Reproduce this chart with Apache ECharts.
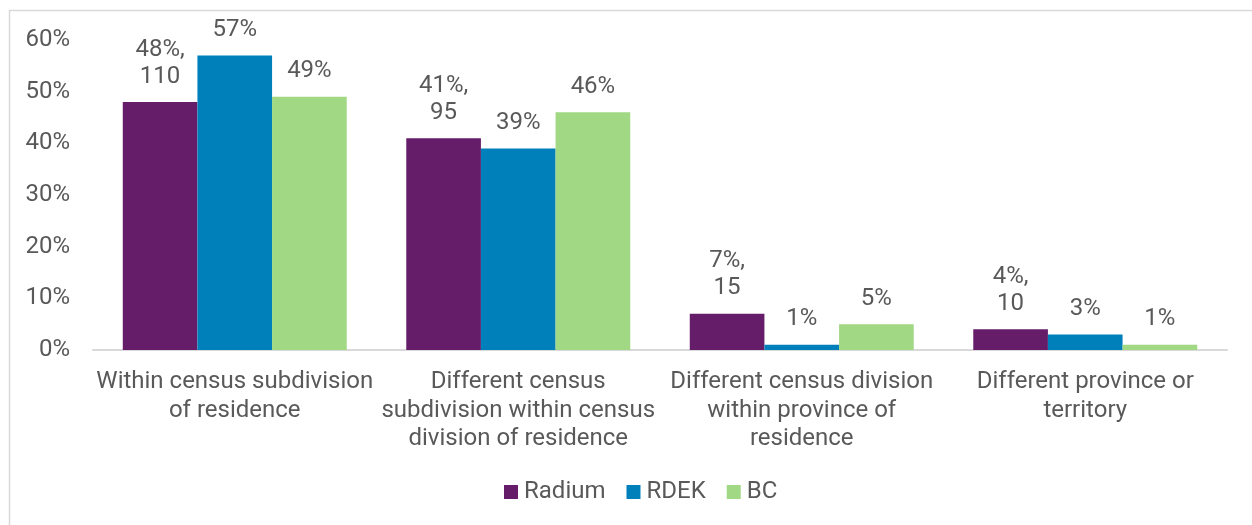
<!DOCTYPE html>
<html>
<head>
<meta charset="utf-8">
<script src="https://cdn.jsdelivr.net/npm/echarts@6/dist/echarts.min.js"></script>
<style>
  html, body { margin: 0; padding: 0; background: #fff; }
  #chart { width: 1252px; height: 525px; }
</style>
</head>
<body>
<div id="chart"></div>
<script>
// Place of work relative to place of residence
const categories = [
  'Within census subdivision\nof residence',
  'Different census\nsubdivision within census\ndivision of residence',
  'Different census division\nwithin province of\nresidence',
  'Different province or\nterritory'
];
const seriesNames = ['Radium', 'RDEK', 'BC'];
const radiumPct = [48, 41, 7, 4];
const radiumCount = [110, 95, 15, 10];
const rdekPct = [57, 39, 1, 3];
const bcPct = [49, 46, 5, 1];
const yTicks = [0, 10, 20, 30, 40, 50, 60];

const colors = ['#651D6A', '#0080BA', '#A1D884'];
const textColor = '#595959';
const fontFamily = 'Roboto, "Noto Sans", sans-serif';
const fontSize = 24;

const labelStyle = {
  show: true,
  position: 'top',
  distance: 12,
  color: textColor,
  fontFamily: fontFamily,
  fontSize: fontSize,
  lineHeight: 27
};

const chart = echarts.init(document.getElementById('chart'));
chart.setOption({
  animation: false,
  graphic: [{
    type: 'rect',
    shape: { x: 9.5, y: 10.5, width: 1400, height: 700 },
    style: { fill: 'none', stroke: '#D9D9D9', lineWidth: 1.5 },
    silent: true
  }],
  grid: { left: 93, right: 25, top: 40, bottom: 175 },
  legend: {
    data: seriesNames,
    bottom: 16,
    left: 499,
    icon: 'rect',
    itemWidth: 14,
    itemHeight: 14,
    itemGap: 21,
    textStyle: { color: textColor, fontFamily: fontFamily, fontSize: fontSize, padding: [0, 0, 0, 1] }
  },
  xAxis: {
    type: 'category',
    data: categories,
    axisLine: { lineStyle: { color: '#D9D9D9', width: 2 } },
    axisTick: { show: false },
    axisLabel: {
      color: textColor,
      fontFamily: fontFamily,
      fontSize: fontSize,
      lineHeight: 28.5,
      margin: 18,
      interval: 0
    }
  },
  yAxis: {
    type: 'value',
    min: yTicks[0],
    max: yTicks[yTicks.length - 1],
    interval: 10,
    splitLine: { show: false },
    axisLine: { show: false },
    axisTick: { show: false },
    axisLabel: {
      color: textColor,
      fontFamily: fontFamily,
      fontSize: fontSize,
      margin: 23,
      formatter: v => v + '%'
    }
  },
  series: [
    {
      name: seriesNames[0],
      type: 'bar',
      data: radiumPct,
      barGap: '0%',
      barCategoryGap: '21%',
      itemStyle: { color: colors[0] },
      label: Object.assign({}, labelStyle, {
        formatter: p => p.value + '%,\n' + radiumCount[p.dataIndex]
      })
    },
    {
      name: seriesNames[1],
      type: 'bar',
      data: rdekPct,
      barGap: '0%',
      barCategoryGap: '21%',
      itemStyle: { color: colors[1] },
      label: Object.assign({}, labelStyle, { formatter: p => p.value + '%' })
    },
    {
      name: seriesNames[2],
      type: 'bar',
      data: bcPct,
      barGap: '0%',
      barCategoryGap: '21%',
      itemStyle: { color: colors[2] },
      label: Object.assign({}, labelStyle, { formatter: p => p.value + '%' })
    }
  ]
});
</script>
</body>
</html>
